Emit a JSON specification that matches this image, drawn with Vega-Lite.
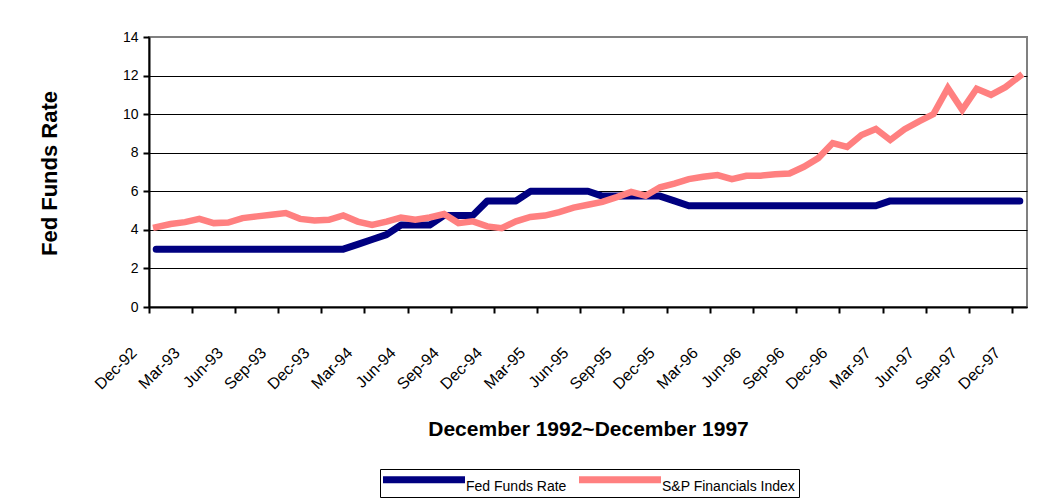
{
  "$schema": "https://vega.github.io/schema/vega-lite/v6.json",
  "width": 878,
  "height": 270,
  "autosize": {"type": "none"},
  "padding": {"left": 149, "top": 37, "right": 20, "bottom": 193},
  "background": "white",
  "config": {
    "font": "Liberation Sans",
    "view": {"stroke": "#808080", "strokeWidth": 2},
    "axis": {"labelColor": "black", "titleColor": "black", "domainColor": "black", "tickColor": "black"}
  },
  "data": {"values": [
    {"month":"Dec-92","series":"Fed Funds Rate","value":3.0},
    {"month":"Jan-93","series":"Fed Funds Rate","value":3.0},
    {"month":"Feb-93","series":"Fed Funds Rate","value":3.0},
    {"month":"Mar-93","series":"Fed Funds Rate","value":3.0},
    {"month":"Apr-93","series":"Fed Funds Rate","value":3.0},
    {"month":"May-93","series":"Fed Funds Rate","value":3.0},
    {"month":"Jun-93","series":"Fed Funds Rate","value":3.0},
    {"month":"Jul-93","series":"Fed Funds Rate","value":3.0},
    {"month":"Aug-93","series":"Fed Funds Rate","value":3.0},
    {"month":"Sep-93","series":"Fed Funds Rate","value":3.0},
    {"month":"Oct-93","series":"Fed Funds Rate","value":3.0},
    {"month":"Nov-93","series":"Fed Funds Rate","value":3.0},
    {"month":"Dec-93","series":"Fed Funds Rate","value":3.0},
    {"month":"Jan-94","series":"Fed Funds Rate","value":3.0},
    {"month":"Feb-94","series":"Fed Funds Rate","value":3.25},
    {"month":"Mar-94","series":"Fed Funds Rate","value":3.5},
    {"month":"Apr-94","series":"Fed Funds Rate","value":3.75},
    {"month":"May-94","series":"Fed Funds Rate","value":4.25},
    {"month":"Jun-94","series":"Fed Funds Rate","value":4.25},
    {"month":"Jul-94","series":"Fed Funds Rate","value":4.25},
    {"month":"Aug-94","series":"Fed Funds Rate","value":4.75},
    {"month":"Sep-94","series":"Fed Funds Rate","value":4.75},
    {"month":"Oct-94","series":"Fed Funds Rate","value":4.75},
    {"month":"Nov-94","series":"Fed Funds Rate","value":5.5},
    {"month":"Dec-94","series":"Fed Funds Rate","value":5.5},
    {"month":"Jan-95","series":"Fed Funds Rate","value":5.5},
    {"month":"Feb-95","series":"Fed Funds Rate","value":6.0},
    {"month":"Mar-95","series":"Fed Funds Rate","value":6.0},
    {"month":"Apr-95","series":"Fed Funds Rate","value":6.0},
    {"month":"May-95","series":"Fed Funds Rate","value":6.0},
    {"month":"Jun-95","series":"Fed Funds Rate","value":6.0},
    {"month":"Jul-95","series":"Fed Funds Rate","value":5.75},
    {"month":"Aug-95","series":"Fed Funds Rate","value":5.75},
    {"month":"Sep-95","series":"Fed Funds Rate","value":5.75},
    {"month":"Oct-95","series":"Fed Funds Rate","value":5.75},
    {"month":"Nov-95","series":"Fed Funds Rate","value":5.75},
    {"month":"Dec-95","series":"Fed Funds Rate","value":5.5},
    {"month":"Jan-96","series":"Fed Funds Rate","value":5.25},
    {"month":"Feb-96","series":"Fed Funds Rate","value":5.25},
    {"month":"Mar-96","series":"Fed Funds Rate","value":5.25},
    {"month":"Apr-96","series":"Fed Funds Rate","value":5.25},
    {"month":"May-96","series":"Fed Funds Rate","value":5.25},
    {"month":"Jun-96","series":"Fed Funds Rate","value":5.25},
    {"month":"Jul-96","series":"Fed Funds Rate","value":5.25},
    {"month":"Aug-96","series":"Fed Funds Rate","value":5.25},
    {"month":"Sep-96","series":"Fed Funds Rate","value":5.25},
    {"month":"Oct-96","series":"Fed Funds Rate","value":5.25},
    {"month":"Nov-96","series":"Fed Funds Rate","value":5.25},
    {"month":"Dec-96","series":"Fed Funds Rate","value":5.25},
    {"month":"Jan-97","series":"Fed Funds Rate","value":5.25},
    {"month":"Feb-97","series":"Fed Funds Rate","value":5.25},
    {"month":"Mar-97","series":"Fed Funds Rate","value":5.5},
    {"month":"Apr-97","series":"Fed Funds Rate","value":5.5},
    {"month":"May-97","series":"Fed Funds Rate","value":5.5},
    {"month":"Jun-97","series":"Fed Funds Rate","value":5.5},
    {"month":"Jul-97","series":"Fed Funds Rate","value":5.5},
    {"month":"Aug-97","series":"Fed Funds Rate","value":5.5},
    {"month":"Sep-97","series":"Fed Funds Rate","value":5.5},
    {"month":"Oct-97","series":"Fed Funds Rate","value":5.5},
    {"month":"Nov-97","series":"Fed Funds Rate","value":5.5},
    {"month":"Dec-97","series":"Fed Funds Rate","value":5.5},
    {"month":"Dec-92","series":"S&P Financials Index","value":4.14},
    {"month":"Jan-93","series":"S&P Financials Index","value":4.30},
    {"month":"Feb-93","series":"S&P Financials Index","value":4.40},
    {"month":"Mar-93","series":"S&P Financials Index","value":4.57},
    {"month":"Apr-93","series":"S&P Financials Index","value":4.35},
    {"month":"May-93","series":"S&P Financials Index","value":4.38},
    {"month":"Jun-93","series":"S&P Financials Index","value":4.61},
    {"month":"Jul-93","series":"S&P Financials Index","value":4.70},
    {"month":"Aug-93","series":"S&P Financials Index","value":4.78},
    {"month":"Sep-93","series":"S&P Financials Index","value":4.87},
    {"month":"Oct-93","series":"S&P Financials Index","value":4.57},
    {"month":"Nov-93","series":"S&P Financials Index","value":4.49},
    {"month":"Dec-93","series":"S&P Financials Index","value":4.52},
    {"month":"Jan-94","series":"S&P Financials Index","value":4.75},
    {"month":"Feb-94","series":"S&P Financials Index","value":4.43},
    {"month":"Mar-94","series":"S&P Financials Index","value":4.26},
    {"month":"Apr-94","series":"S&P Financials Index","value":4.43},
    {"month":"May-94","series":"S&P Financials Index","value":4.64},
    {"month":"Jun-94","series":"S&P Financials Index","value":4.52},
    {"month":"Jul-94","series":"S&P Financials Index","value":4.64},
    {"month":"Aug-94","series":"S&P Financials Index","value":4.82},
    {"month":"Sep-94","series":"S&P Financials Index","value":4.35},
    {"month":"Oct-94","series":"S&P Financials Index","value":4.44},
    {"month":"Nov-94","series":"S&P Financials Index","value":4.18},
    {"month":"Dec-94","series":"S&P Financials Index","value":4.09},
    {"month":"Jan-95","series":"S&P Financials Index","value":4.44},
    {"month":"Feb-95","series":"S&P Financials Index","value":4.67},
    {"month":"Mar-95","series":"S&P Financials Index","value":4.74},
    {"month":"Apr-95","series":"S&P Financials Index","value":4.92},
    {"month":"May-95","series":"S&P Financials Index","value":5.15},
    {"month":"Jun-95","series":"S&P Financials Index","value":5.30},
    {"month":"Jul-95","series":"S&P Financials Index","value":5.45},
    {"month":"Aug-95","series":"S&P Financials Index","value":5.70},
    {"month":"Sep-95","series":"S&P Financials Index","value":5.97},
    {"month":"Oct-95","series":"S&P Financials Index","value":5.77},
    {"month":"Nov-95","series":"S&P Financials Index","value":6.21},
    {"month":"Dec-95","series":"S&P Financials Index","value":6.40},
    {"month":"Jan-96","series":"S&P Financials Index","value":6.63},
    {"month":"Feb-96","series":"S&P Financials Index","value":6.75},
    {"month":"Mar-96","series":"S&P Financials Index","value":6.84},
    {"month":"Apr-96","series":"S&P Financials Index","value":6.63},
    {"month":"May-96","series":"S&P Financials Index","value":6.80},
    {"month":"Jun-96","series":"S&P Financials Index","value":6.81},
    {"month":"Jul-96","series":"S&P Financials Index","value":6.88},
    {"month":"Aug-96","series":"S&P Financials Index","value":6.92},
    {"month":"Sep-96","series":"S&P Financials Index","value":7.27},
    {"month":"Oct-96","series":"S&P Financials Index","value":7.72},
    {"month":"Nov-96","series":"S&P Financials Index","value":8.50},
    {"month":"Dec-96","series":"S&P Financials Index","value":8.30},
    {"month":"Jan-97","series":"S&P Financials Index","value":8.92},
    {"month":"Feb-97","series":"S&P Financials Index","value":9.23},
    {"month":"Mar-97","series":"S&P Financials Index","value":8.66},
    {"month":"Apr-97","series":"S&P Financials Index","value":9.22},
    {"month":"May-97","series":"S&P Financials Index","value":9.63},
    {"month":"Jun-97","series":"S&P Financials Index","value":10.0},
    {"month":"Jul-97","series":"S&P Financials Index","value":11.35},
    {"month":"Aug-97","series":"S&P Financials Index","value":10.22},
    {"month":"Sep-97","series":"S&P Financials Index","value":11.32},
    {"month":"Oct-97","series":"S&P Financials Index","value":11.0},
    {"month":"Nov-97","series":"S&P Financials Index","value":11.4},
    {"month":"Dec-97","series":"S&P Financials Index","value":11.97}
  ]},
  "encoding": {
    "x": {
      "field": "month", "type": "ordinal", "bandPosition": 0.5,
      "scale": {"type": "band", "paddingInner": 0, "paddingOuter": 0,
        "domain": ["Dec-92","Jan-93","Feb-93","Mar-93","Apr-93","May-93","Jun-93","Jul-93","Aug-93","Sep-93","Oct-93","Nov-93","Dec-93","Jan-94","Feb-94","Mar-94","Apr-94","May-94","Jun-94","Jul-94","Aug-94","Sep-94","Oct-94","Nov-94","Dec-94","Jan-95","Feb-95","Mar-95","Apr-95","May-95","Jun-95","Jul-95","Aug-95","Sep-95","Oct-95","Nov-95","Dec-95","Jan-96","Feb-96","Mar-96","Apr-96","May-96","Jun-96","Jul-96","Aug-96","Sep-96","Oct-96","Nov-96","Dec-96","Jan-97","Feb-97","Mar-97","Apr-97","May-97","Jun-97","Jul-97","Aug-97","Sep-97","Oct-97","Nov-97","Dec-97"]},
      "axis": {
        "values": ["Dec-92","Mar-93","Jun-93","Sep-93","Dec-93","Mar-94","Jun-94","Sep-94","Dec-94","Mar-95","Jun-95","Sep-95","Dec-95","Mar-96","Jun-96","Sep-96","Dec-96","Mar-97","Jun-97","Sep-97","Dec-97"],
        "bandPosition": 0,
        "labelAngle": -45, "labelAlign": "right", "labelBaseline": "middle",
        "labelOffset": -22, "labelPadding": 37, "labelFontSize": 16,
        "labelOverlap": false, "labelBound": false,
        "tickSize": 6, "tickWidth": 2, "domainWidth": 2, "grid": false,
        "title": "December 1992~December 1997", "titleFontSize": 21, "titleFontWeight": "bold",
        "titleX": 439, "titleY": 128, "titleAlign": "center", "titleBaseline": "alphabetic"
      }
    },
    "y": {
      "field": "value", "type": "quantitative",
      "scale": {"domain": [0, 14], "nice": false},
      "axis": {
        "values": [0, 2, 4, 6, 8, 10, 12, 14],
        "labelFontSize": 14, "labelPadding": 5,
        "tickSize": 6, "tickWidth": 2, "domainWidth": 2,
        "grid": true, "gridWidth": 1,
        "gridColor": {"condition": {"test": "datum.value === 14", "value": "#808080"}, "value": "black"},
        "title": "Fed Funds Rate", "titleFontSize": 22, "titleFontWeight": "bold",
        "titleAngle": 270, "titleX": -93, "titleY": 136, "titleAlign": "center", "titleBaseline": "alphabetic"
      }
    },
    "color": {
      "field": "series", "type": "nominal",
      "scale": {"domain": ["Fed Funds Rate", "S&P Financials Index"], "range": ["#000080", "#FF8080"]},
      "legend": {
        "orient": "none", "legendX": 231, "legendY": 432, "direction": "horizontal",
        "title": null, "symbolType": "M-1.875,0H18.625", "symbolSize": 64, "symbolStrokeWidth": 7,
        "labelFontSize": 14, "labelColor": "black", "labelBaseline": "top", "labelOffset": 68,
        "columnPadding": -2, "padding": 3, "strokeColor": "black"
      }
    }
  },
  "layer": [
    {
      "transform": [{"filter": "datum.series === 'Fed Funds Rate'"}],
      "mark": {"type": "line", "strokeWidth": 7, "strokeCap": "round", "strokeJoin": "round"}
    },
    {
      "transform": [{"filter": "datum.series === 'S&P Financials Index'"}],
      "mark": {"type": "line", "strokeWidth": 6.5, "strokeCap": "square", "strokeJoin": "miter"}
    }
  ]
}
